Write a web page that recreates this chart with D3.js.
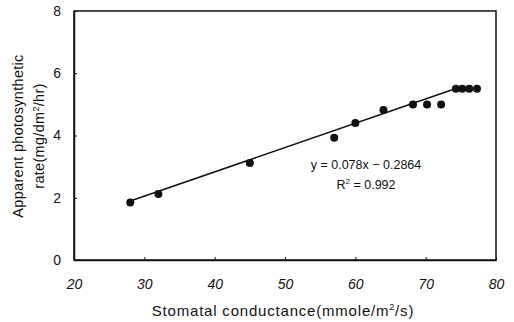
<!DOCTYPE html>
<html>
<head>
<meta charset="utf-8">
<script src="https://cdn.jsdelivr.net/npm/d3@7"></script>
<style>
  body { margin: 0; background: #fff; }
  svg { font-family: "Liberation Sans", Arial, sans-serif; }
</style>
</head>
<body>
<div id="chart"></div>
<script>
// data
const conductance = [28, 32, 45, 57, 60, 64, 68.2, 70.2, 72.2, 74.3, 75.2, 76.2, 77.3];
const photoRate = [1.85, 2.12, 3.12, 3.93, 4.4, 4.82, 5.0, 5.0, 5.0, 5.5, 5.5, 5.5, 5.5];
const xTicks = [20, 30, 40, 50, 60, 70, 80];
const yTicks = [0, 2, 4, 6, 8];
const slope = 0.078;
const intercept = -0.2864;
const fitRange = [28, 74.3];

const width = 514, height = 322;
const margin = { top: 11, right: 18, bottom: 62, left: 74 };

const svg = d3.select('#chart').append('svg')
  .attr('width', width)
  .attr('height', height);

const x = d3.scaleLinear().domain([20, 80]).range([margin.left, width - margin.right]);
const y = d3.scaleLinear().domain([0, 8]).range([height - margin.bottom, margin.top]);

// frame
svg.append('rect')
  .attr('x', x(20)).attr('y', y(8))
  .attr('width', x(80) - x(20)).attr('height', y(0) - y(8))
  .attr('fill', 'none').attr('stroke', '#111').attr('stroke-width', 1.5);

// axes, ticks point inward
const xAxis = svg.append('g')
  .attr('transform', `translate(0,${y(0)})`)
  .call(d3.axisBottom(x).tickValues(xTicks).tickSizeInner(-3).tickSizeOuter(0).tickPadding(19));
const yAxis = svg.append('g')
  .attr('transform', `translate(${x(20)},0)`)
  .call(d3.axisLeft(y).tickValues(yTicks).tickSizeInner(-3).tickSizeOuter(0).tickPadding(13));

[xAxis, yAxis].forEach(g => {
  g.select('.domain').attr('stroke', '#111').attr('stroke-width', 1.5);
  g.selectAll('line').attr('stroke', '#111');
  g.selectAll('text').attr('fill', '#111').style('font-size', '14px')
    .style('font-family', '"Liberation Sans", Arial, sans-serif');
});
xAxis.selectAll('text').style('font-style', 'italic');

// regression line
svg.append('line')
  .attr('x1', x(fitRange[0])).attr('y1', y(slope * fitRange[0] + intercept))
  .attr('x2', x(fitRange[1])).attr('y2', y(slope * fitRange[1] + intercept))
  .attr('stroke', '#111').attr('stroke-width', 1.6);

// points
svg.append('g').selectAll('circle')
  .data(conductance.map((c, i) => ({ c, r: photoRate[i] })))
  .enter().append('circle')
  .attr('cx', d => x(d.c))
  .attr('cy', d => y(d.r))
  .attr('r', 4)
  .attr('fill', '#111');

// equation
const eq = svg.append('g').style('font-size', '12.5px').attr('fill', '#111');
eq.append('text').attr('x', 366).attr('y', 169).attr('text-anchor', 'middle')
  .text('y = 0.078x \u2212 0.2864');
const r2 = eq.append('text').attr('x', 366).attr('y', 189).attr('text-anchor', 'middle');
r2.append('tspan').text('R');
r2.append('tspan').attr('dy', -5).style('font-size', '8px').text('2');
r2.append('tspan').attr('dy', 5).text(' = 0.992');

// axis titles
const xt = svg.append('text')
  .attr('x', 283).attr('y', 316)
  .attr('text-anchor', 'middle')
  .style('font-size', '15px').style('letter-spacing', '0.8px').attr('fill', '#111');
xt.append('tspan').text('Stomatal conductance(mmole/m');
xt.append('tspan').attr('dy', -6).style('font-size', '9px').text('2');
xt.append('tspan').attr('dy', 6).text('/s)');

const yt = svg.append('text')
  .attr('transform', 'translate(0,136) rotate(-90)')
  .attr('text-anchor', 'middle')
  .style('font-size', '14.5px').style('letter-spacing', '0.3px').attr('fill', '#111');
yt.append('tspan').attr('x', 0).attr('y', 23).text('Apparent photosynthetic');
const line2 = yt.append('tspan').attr('x', 0).attr('y', 44);
line2.append('tspan').text('rate(mg/dm');
line2.append('tspan').attr('dy', -5).style('font-size', '9px').text('2');
line2.append('tspan').attr('dy', 5).text('/hr)');
</script>
</body>
</html>
